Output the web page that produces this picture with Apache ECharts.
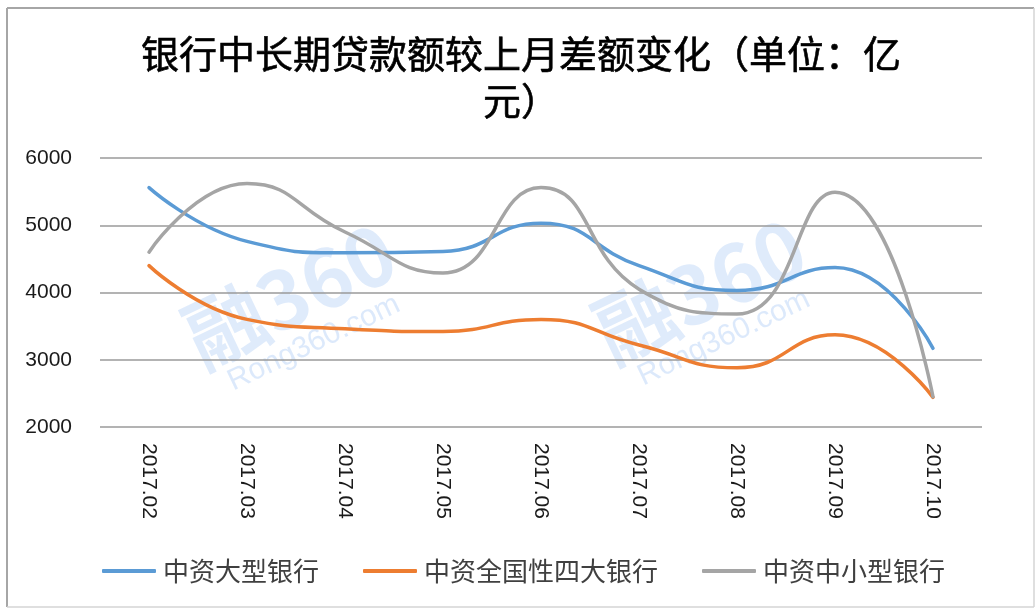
<!DOCTYPE html>
<html>
<head>
<meta charset="utf-8">
<script src="https://cdn.jsdelivr.net/npm/echarts@6/dist/echarts.min.js"></script>
<style>
  html, body { margin: 0; padding: 0; background: #fff; }
  #chart { width: 1035px; height: 608px; }
</style>
</head>
<body>
<div id="chart"></div>
<script>
// Monthly change in medium/long-term loans vs. previous month (unit: 100 million yuan)
const months = ['2017.02', '2017.03', '2017.04', '2017.05', '2017.06', '2017.07', '2017.08', '2017.09', '2017.10'];
const largeBanks = [5560, 4760, 4590, 4610, 5030, 4400, 4030, 4370, 3170];
const bigFourBanks = [4400, 3600, 3460, 3420, 3600, 3220, 2880, 3370, 2440];
const smallMidBanks = [4600, 5620, 4900, 4290, 5560, 4050, 3680, 5490, 2450];
const yTicks = { min: 2000, max: 6000, interval: 1000 };

const titleText = '银行中长期贷款额较上月差额变化（单位：亿\n元）';
const seriesNames = ['中资大型银行', '中资全国性四大银行', '中资中小型银行'];
const colors = ['#5b9bd5', '#ed7d31', '#a5a5a5'];

const chart = echarts.init(document.getElementById('chart'), null, { renderer: 'canvas' });

const cjk = '"Noto Sans CJK SC", sans-serif';
const latin = '"Liberation Sans", Arial, sans-serif';

// faint site stamp drawn behind the plot
function stamp(cx, cy) {
  return [
    {
      type: 'text', x: cx, y: cy, rotation: 0.445, z: -1,
      style: { text: '融360', font: 'bold 80px ' + cjk, fill: 'rgba(120,170,240,0.24)', align: 'center', verticalAlign: 'middle' }
    },
    {
      type: 'text', x: cx + 24, y: cy + 48, rotation: 0.445, z: -1,
      style: { text: 'Rong360.com', font: '30px ' + latin, fill: 'rgba(120,170,240,0.26)', align: 'center', verticalAlign: 'middle' }
    }
  ];
}

const makeSeries = (name, data, color) => ({
  name, type: 'line', data, smooth: 0.5, showSymbol: false, symbol: 'none',
  lineStyle: { color, width: 3.5, cap: 'round' },
  itemStyle: { color },
  z: 3
});

chart.setOption({
  animation: false,
  backgroundColor: '#fff',
  color: colors,
  grid: { left: 100, right: 53, top: 158, bottom: 181, containLabel: false },
  graphic: [
    // chart frame
    { type: 'line', shape: { x1: 7, y1: 8, x2: 1034, y2: 8 }, style: { stroke: '#a6a6a6', lineWidth: 2 } },
    { type: 'line', shape: { x1: 7, y1: 8, x2: 7, y2: 607 }, style: { stroke: '#a6a6a6', lineWidth: 2 } },
    { type: 'line', shape: { x1: 1034, y1: 8, x2: 1034, y2: 607 }, style: { stroke: '#d4d4d4', lineWidth: 1.5 } },
    { type: 'line', shape: { x1: 7, y1: 607, x2: 1034, y2: 607 }, style: { stroke: '#d4d4d4', lineWidth: 1.5 } },
    // title
    {
      type: 'text', x: 521, y: 77,
      style: { text: titleText, font: '38px ' + cjk, fill: '#000', stroke: '#000', lineWidth: 0.6, align: 'center', verticalAlign: 'middle', lineHeight: 47 }
    },
    ...stamp(290, 295),
    ...stamp(700, 290)
  ],
  legend: {
    data: seriesNames,
    left: 97, top: 553,
    itemWidth: 54, itemHeight: 4, itemGap: 44,
    icon: 'roundRect',
    textStyle: { fontSize: 26, fontFamily: cjk, color: '#404040', padding: [0, 0, 0, 2] }
  },
  xAxis: {
    type: 'category',
    data: months,
    boundaryGap: true,
    axisLine: { show: false },
    axisTick: { show: false },
    axisLabel: { rotate: -90, margin: 16, fontSize: 21, fontFamily: latin, color: '#1a1a1a' },
    splitLine: { show: false }
  },
  yAxis: {
    type: 'value',
    min: yTicks.min, max: yTicks.max, interval: yTicks.interval,
    axisLine: { show: false },
    axisTick: { show: false },
    axisLabel: { margin: 28, fontSize: 21, fontFamily: latin, color: '#1a1a1a', formatter: v => String(v) },
    splitLine: { lineStyle: { color: '#9a9a9a', width: 1.5 } }
  },
  series: [
    makeSeries(seriesNames[0], largeBanks, colors[0]),
    makeSeries(seriesNames[1], bigFourBanks, colors[1]),
    makeSeries(seriesNames[2], smallMidBanks, colors[2])
  ]
});
</script>
</body>
</html>
